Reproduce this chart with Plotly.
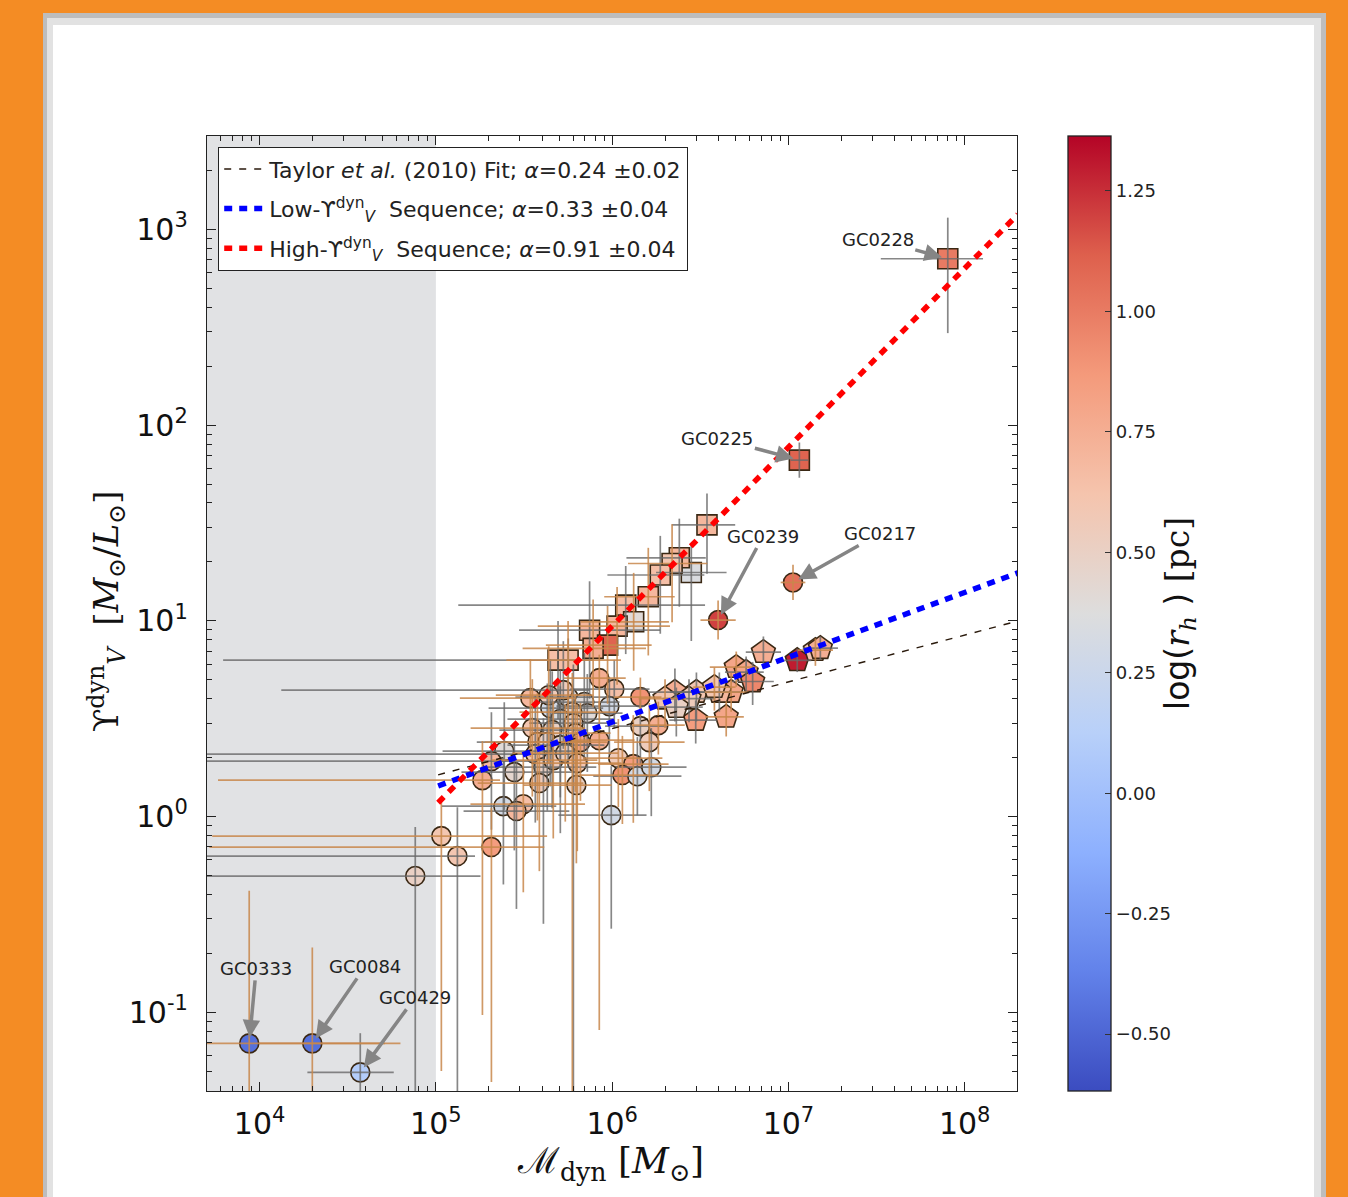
import numpy as np
import plotly.graph_objects as go

# ---------------- data (log10 values) ----------------
# circles
circ_logM = [5.927, 6.012, 6.160, 5.984, 5.536, 5.649, 5.751, 5.842, 5.859, 5.774,
             5.706, 5.780, 5.547, 5.660, 5.791, 5.576, 5.632, 5.706, 5.820, 5.927,
             5.388, 5.315, 5.445, 5.564, 5.610, 5.666, 5.734, 5.802, 5.587, 5.797,
             5.264, 6.035, 6.120, 6.160, 6.262, 6.211, 6.058, 6.143, 6.222, 5.383,
             5.496, 5.457, 5.995, 5.031, 5.122, 5.315, 4.883, 3.941, 4.299, 4.571,
             6.601, 7.026, 5.723, 5.640]
circ_logY = [0.707, 0.651, 0.610, 0.564, 0.605, 0.554, 0.610, 0.585, 0.528, 0.534,
             0.498, 0.477, 0.452, 0.442, 0.426, 0.380, 0.380, 0.365, 0.380, 0.390,
             0.334, 0.283, 0.227, 0.319, 0.252, 0.288, 0.324, 0.273, 0.171, 0.161,
             0.186, 0.298, 0.268, 0.462, 0.467, 0.380, 0.212, 0.206, 0.252, 0.053,
             0.063, 0.028, 0.007, -0.100, -0.202, -0.156, -0.304, -1.159, -1.159, -1.307,
             1.004, 1.196, 0.646, 0.620]
circ_logrh = [0.75, 0.65, 0.90, 0.30, 0.70, 0.30, 0.40, 0.40, 0.40, 0.45,
              0.35, 0.50, 0.60, 0.50, 0.55, 0.60, 0.50, 0.45, 0.80, 0.75,
              0.40, 0.70, 0.45, 0.60, 0.50, 0.55, 0.50, 0.60, 0.55, 0.50,
              0.75, 0.55, 0.85, 0.50, 0.75, 0.55, 0.90, 0.30, 0.30, 0.30,
              0.65, 0.70, 0.30, 0.60, 0.60, 0.85, 0.50, -0.45, -0.45, 0.10,
              1.20, 1.05, 0.55, 0.55]
circ_dM_lo = [0.20, 0.25, 0.15, 0.30, 0.40, 0.35, 0.30, 0.25, 0.20, 0.30,
              0.30, 0.25, 0.35, 0.30, 0.25, 0.30, 0.40, 0.30, 0.25, 0.20,
              0.35, 1.70, 0.30, 1.90, 0.35, 0.35, 0.30, 0.25, 0.35, 0.30,
              1.50, 0.20, 0.20, 0.20, 0.15, 0.20, 0.25, 0.25, 0.20, 0.35,
              0.30, 0.30, 0.30, 1.30, 1.50, 1.60, 1.20, 0.40, 0.30, 0.30,
              0.10, 0.07, 1.60, 0.30]
circ_dM_hi = [0.15, 0.20, 0.12, 0.20, 0.25, 0.30, 0.25, 0.20, 0.20, 0.25,
              0.30, 0.25, 0.30, 0.20, 0.20, 0.30, 0.25, 0.25, 0.15, 0.20,
              0.40, 0.25, 0.35, 0.20, 0.30, 0.25, 0.30, 0.25, 0.25, 0.20,
              0.10, 0.25, 0.20, 0.15, 0.15, 0.20, 0.20, 0.25, 0.20, 0.30,
              0.35, 0.30, 0.20, 0.60, 0.10, 0.30, 0.37, 0.77, 0.50, 0.19,
              0.10, 0.07, 0.15, 0.25]
circ_dY_lo = [0.15, 0.20, 0.10, 0.25, 0.30, 0.40, 0.35, 0.30, 0.30, 2.00,
              0.40, 2.00, 0.35, 0.40, 0.30, 0.40, 0.35, 0.45, 0.30, 1.48,
              0.30, 0.35, 0.40, 0.35, 0.80, 0.40, 0.35, 0.45, 0.45, 0.40,
              1.20, 0.25, 0.30, 0.20, 0.15, 0.25, 0.25, 0.20, 0.25, 0.40,
              0.45, 0.50, 0.58, 1.20, 1.20, 1.20, 1.20, 1.00, 1.00, 0.30,
              0.10, 0.09, 0.30, 0.35]
circ_dY_hi = [0.12, 0.15, 0.10, 0.15, 0.20, 0.25, 0.30, 0.25, 0.20, 0.20,
              0.25, 0.30, 0.25, 0.30, 0.20, 0.25, 0.30, 0.30, 0.20, 0.20,
              0.25, 0.25, 0.25, 0.30, 0.25, 0.30, 0.25, 0.30, 0.25, 0.25,
              0.20, 0.20, 0.25, 0.15, 0.12, 0.20, 0.20, 0.20, 0.20, 0.25,
              0.25, 0.25, 0.25, 0.20, 0.25, 0.20, 0.25, 0.78, 0.49, 0.20,
              0.10, 0.09, 0.25, 0.25]
circ_err = ['t', 'g', 't', 'g', 't', 'g', 'g', 'g', 'g', 't',
            'g', 'g', 't', 'g', 't', 't', 'g', 'g', 't', 't',
            'g', 'g', 'g', 'g', 'g', 't', 't', 't', 't', 't',
            't', 't', 't', 'g', 't', 't', 't', 'g', 'g', 'g',
            't', 'g', 'g', 't', 'g', 't', 'g', 't', 't', 'g',
            't', 't', 'g', 't']

# squares (high-Upsilon sequence)
sq_logM = [7.904, 7.062, 6.538, 6.449, 6.381, 6.340, 6.273, 6.205, 6.077, 6.122,
           6.028, 5.872, 5.974, 5.892, 5.693, 5.750]
sq_logY = [2.850, 1.821, 1.490, 1.247, 1.322, 1.293, 1.234, 1.123, 1.080, 0.995,
           0.973, 0.952, 0.876, 0.859, 0.799, 0.799]
sq_logrh = [1.00, 1.10, 0.70, 0.35, 0.70, 0.60, 0.65, 0.70, 0.65, 0.40,
            0.70, 0.70, 1.10, 0.75, 0.65, 0.65]
sq_dM_lo = [0.38, 0.05, 0.20, 0.20, 0.30, 0.25, 0.30, 0.25, 0.95, 0.30,
            0.45, 0.40, 0.35, 0.40, 1.90, 0.35]
sq_dM_hi = [0.20, 0.05, 0.16, 0.20, 0.15, 0.20, 0.25, 0.15, 0.45, 0.20,
            0.30, 0.40, 0.25, 0.30, 0.20, 0.30]
sq_dY_lo = [0.38, 0.09, 0.25, 0.35, 0.25, 0.30, 0.30, 0.30, 0.25, 0.25,
            0.30, 0.35, 0.30, 0.30, 0.30, 0.35]
sq_dY_hi = [0.21, 0.09, 0.16, 0.15, 0.20, 0.20, 0.20, 0.25, 0.20, 0.25,
            0.20, 0.25, 0.20, 0.25, 0.20, 0.20]
sq_err = ['g', 'g', 'g', 'g', 'g', 't', 'g', 't', 'g', 't', 't', 'g', 't', 't', 'g', 't']

# pentagons (low-Upsilon sequence)
pt_logM = [6.858, 7.050, 7.153, 7.181, 6.704, 6.760, 6.797, 6.675, 6.608, 6.647,
           6.474, 6.478, 6.580, 6.356, 6.436, 6.300, 6.364]
pt_logY = [0.840, 0.798, 0.850, 0.860, 0.763, 0.738, 0.690, 0.636, 0.636, 0.509,
           0.493, 0.636, 0.661, 0.636, 0.602, 0.602, 0.559]
pt_logrh = [0.75, 1.30, 0.60, 0.75, 0.80, 0.80, 0.95, 0.80, 0.70, 0.80,
            0.85, 0.60, 0.60, 0.75, 0.55, 0.60, 0.50]
pt_dM_lo = [0.10, 0.08, 0.10, 0.10, 0.15, 0.12, 0.12, 0.15, 0.12, 0.12,
            0.15, 0.15, 0.12, 0.15, 0.15, 0.15, 0.15]
pt_dM_hi = [0.10, 0.08, 0.10, 0.10, 0.12, 0.10, 0.12, 0.10, 0.12, 0.10,
            0.12, 0.15, 0.12, 0.15, 0.15, 0.12, 0.15]
pt_dY_lo = [0.08, 0.06, 0.08, 0.06, 0.10, 0.10, 0.12, 0.10, 0.10, 0.10,
            0.12, 0.15, 0.12, 0.15, 0.12, 0.15, 0.15]
pt_dY_hi = [0.08, 0.06, 0.06, 0.06, 0.08, 0.08, 0.10, 0.10, 0.10, 0.08,
            0.10, 0.10, 0.10, 0.12, 0.10, 0.10, 0.10]
pt_err = ['g', 'g', 't', 'g', 't', 'g', 'g', 't', 'g', 't', 'g', 'g', 't', 'g', 'g', 't', 'g']

# fits: log Y = norm + alpha * (log M - 5)
fit_names = ["Taylor <i>et al.</i> (2010) Fit; <i>α</i>=0.24 ±0.02",
             "Low-ϒ<sup>dyn</sup><sub><i>V</i></sub>  Sequence; <i>α</i>=0.33 ±0.04",
             "High-ϒ<sup>dyn</sup><sub><i>V</i></sub>  Sequence; <i>α</i>=0.91 ±0.04"]
fit_alpha = [0.239, 0.331, 0.914]
fit_norm = [0.210, 0.152, 0.059]
fit_Mrange = [1.03e5, 2.0e8]

# labelled clusters: (name, group, index)
labels = [("GC0228", "sq", 0), ("GC0225", "sq", 1), ("GC0239", "circ", 50),
          ("GC0217", "circ", 51), ("GC0333", "circ", 47), ("GC0084", "circ", 48),
          ("GC0429", "circ", 49)]

# colour bar
cb_ticks = [-0.5, -0.25, 0.0, 0.25, 0.5, 0.75, 1.0, 1.25]
cb_min, cb_max = -0.618, 1.364

# axes
x_ticks = [1e4, 1e5, 1e6, 1e7, 1e8]
x_ticktext = ["10<sup>4</sup>", "10<sup>5</sup>", "10<sup>6</sup>", "10<sup>7</sup>", "10<sup>8</sup>"]
y_ticks = [1e-1, 1e0, 1e1, 1e2, 1e3]
y_ticktext = ["10<sup>-1</sup>", "10<sup>0</sup>", "10<sup>1</sup>", "10<sup>2</sup>", "10<sup>3</sup>"]
x_range = [5.03e3, 1.98e8]
y_range = [0.0396, 3.0e3]
shade_xmax = 1e5

# ---------------- figure ----------------
coolwarm = [[0.0, 'rgb(59,76,192)'], [0.125, 'rgb(98,130,234)'], [0.25, 'rgb(141,176,254)'],
            [0.375, 'rgb(184,208,249)'], [0.5, 'rgb(221,221,221)'], [0.625, 'rgb(245,196,173)'],
            [0.75, 'rgb(244,154,123)'], [0.875, 'rgb(222,96,77)'], [1.0, 'rgb(180,4,38)']]

L, R, T, B = 207, 331, 136, 106
W, H = 1348, 1197
PW, PH = W - L - R, H - T - B


def px_x(p):
    return (p - L) / PW


def px_y(p):
    return (H - B - p) / PH


def minor_vals(lo_dec, hi_dec):
    return [m * 10.0 ** d for d in range(lo_dec, hi_dec) for m in range(2, 10)]


groups = {
    "circ": dict(M=circ_logM, Y=circ_logY, c=circ_logrh, mlo=circ_dM_lo, mhi=circ_dM_hi,
                 ylo=circ_dY_lo, yhi=circ_dY_hi, e=circ_err, sym="circle", size=19),
    "sq": dict(M=sq_logM, Y=sq_logY, c=sq_logrh, mlo=sq_dM_lo, mhi=sq_dM_hi,
               ylo=sq_dY_lo, yhi=sq_dY_hi, e=sq_err, sym="square", size=20),
    "pt": dict(M=pt_logM, Y=pt_logY, c=pt_logrh, mlo=pt_dM_lo, mhi=pt_dM_hi,
               ylo=pt_dY_lo, yhi=pt_dY_hi, e=pt_err, sym="pentagon", size=25),
}

fig = go.Figure()

edge = "#3a2814"
first = True
for key in ["circ", "sq", "pt"]:
    g = groups[key]
    fig.add_trace(go.Scatter(
        x=10 ** np.array(g["M"]), y=10 ** np.array(g["Y"]), mode="markers",
        showlegend=False, hoverinfo="skip",
        marker=dict(symbol=g["sym"], size=g["size"], color=g["c"], colorscale=coolwarm,
                    cmin=cb_min, cmax=cb_max, line=dict(color=edge, width=1.6),
                    showscale=first,
                    colorbar=dict(
                        x=px_x(1068), xanchor="left", xpad=0,
                        y=0.5, yanchor="middle", ypad=0,
                        len=1.0, lenmode="fraction", thickness=43,
                        outlinecolor="#222", outlinewidth=1.3,
                        tickvals=cb_ticks, ticktext=[f"{v:.2f}".replace("-", "−") for v in cb_ticks],
                        ticks="inside", ticklen=6, tickcolor="#333",
                        tickfont=dict(family="DejaVu Sans", size=18, color="#222"),
                        title=dict(text="log(<span style='font-family:DejaVu Serif'><i>r<sub>h</sub></i></span> ) "
                                        "<span style='font-family:DejaVu Serif'>[pc]</span>",
                                   side="right", font=dict(family="DejaVu Sans", size=33, color="#111")),
                    ))))
    first = False

# error bars drawn on top of the markers
err_colors = {"g": "rgba(105,105,105,0.8)", "t": "rgba(200,135,75,0.85)"}
for cls in ["g", "t"]:
    xs, ys, xp, xm, yp, ym = [], [], [], [], [], []
    for key in ["circ", "sq", "pt"]:
        g = groups[key]
        for i in range(len(g["M"])):
            if g["e"][i] != cls:
                continue
            xv, yv = 10 ** g["M"][i], 10 ** g["Y"][i]
            xs.append(xv); ys.append(yv)
            xp.append(xv * (10 ** g["mhi"][i] - 1)); xm.append(xv * (1 - 10 ** (-g["mlo"][i])))
            yp.append(yv * (10 ** g["yhi"][i] - 1)); ym.append(yv * (1 - 10 ** (-g["ylo"][i])))
    fig.add_trace(go.Scatter(
        x=xs, y=ys, mode="markers", showlegend=False, hoverinfo="skip",
        marker=dict(size=1, opacity=0),
        error_x=dict(type="data", symmetric=False, array=xp, arrayminus=xm,
                     color=err_colors[cls], thickness=1.7, width=0),
        error_y=dict(type="data", symmetric=False, array=yp, arrayminus=ym,
                     color=err_colors[cls], thickness=1.7, width=0)))

# fit lines
fit_styles = [dict(color="#2a1a0c", width=1.4, dash="7px,8px"),
              dict(color="#0000ff", width=5.5, dash="8px,7px"),
              dict(color="#ff0000", width=5.5, dash="8px,7px")]
for k in range(3):
    xm_ = np.array(fit_Mrange)
    ym_ = 10 ** (fit_norm[k] + fit_alpha[k] * (np.log10(xm_) - 5))
    fig.add_trace(go.Scatter(x=xm_, y=ym_, mode="lines", name=fit_names[k],
                             legendgroup=f"g{k}", line=fit_styles[k], hoverinfo="skip"))

# annotations with arrows
label_offsets = {"GC0228": (-70, -19), "GC0225": (-82, -22), "GC0239": (45, -84),
                 "GC0217": (87, -49), "GC0333": (7, -75), "GC0084": (53, -77),
                 "GC0429": (55, -75)}
annotations = []
for name, key, idx in labels:
    g = groups[key]
    ax_, ay_ = label_offsets[name]
    annotations.append(dict(x=g["M"][idx], y=g["Y"][idx], xref="x", yref="y", text=name,
                            showarrow=True, ax=ax_, ay=ay_, arrowhead=2, arrowsize=1.0,
                            arrowwidth=3.5, arrowcolor="#858585", standoff=6,
                            font=dict(family="DejaVu Sans", size=18, color="#222")))

# axis titles
annotations.append(dict(xref="paper", yref="paper", x=px_x(610), y=px_y(1163),
                        xanchor="center", yanchor="middle",
                        text="ℳ<sub>dyn</sub> [<i>M</i><sub>⊙</sub>]", showarrow=False,
                        font=dict(family="DejaVu Serif", size=36, color="#111")))
annotations.append(dict(xref="paper", yref="paper", x=px_x(106), y=px_y(612),
                        xanchor="center", yanchor="middle",
                        text="ϒ<sup>dyn</sup><sub><i>V</i></sub>  [<i>M</i><sub>⊙</sub>/<i>L</i><sub>⊙</sub>]",
                        textangle=-90, showarrow=False,
                        font=dict(family="DejaVu Serif", size=34, color="#111")))

shapes = [
    dict(type="rect", xref="paper", yref="paper", x0=px_x(43), x1=px_x(1326), y0=px_y(1205), y1=px_y(13),
         fillcolor="#bdbdbd", line=dict(width=0), layer="below"),
    dict(type="rect", xref="paper", yref="paper", x0=px_x(47), x1=px_x(1321), y0=px_y(1205), y1=px_y(18),
         fillcolor="#e2e2e2", line=dict(width=0), layer="below"),
    dict(type="rect", xref="paper", yref="paper", x0=px_x(53), x1=px_x(1314), y0=px_y(1205), y1=px_y(25),
         fillcolor="#ffffff", line=dict(width=0), layer="below"),
    dict(type="rect", xref="x", yref="y domain", x0=x_range[0] * 0.5, x1=shade_xmax, y0=0, y1=1,
         fillcolor="#e1e2e4", line=dict(width=0), layer="below"),
]

axis_common = dict(type="log", showgrid=False, zeroline=False, showline=True, linecolor="#222",
                   linewidth=1.3, mirror="allticks", ticks="inside", ticklen=9, tickwidth=1.2,
                   tickcolor="#222", automargin=False,
                   tickfont=dict(family="DejaVu Sans", size=30, color="#111"))

fig.update_layout(
    width=W, height=H,
    margin=dict(l=L, r=R, t=T, b=B, autoexpand=False),
    paper_bgcolor="#f48c24", plot_bgcolor="#ffffff",
    xaxis=dict(axis_common, range=[np.log10(x_range[0]), np.log10(x_range[1])],
               tickmode="array", tickvals=x_ticks, ticktext=x_ticktext, ticklabelstandoff=6,
               minor=dict(tickmode="array", tickvals=minor_vals(3, 9), ticks="inside", ticklen=5,
                          tickwidth=1, tickcolor="#222", showgrid=False)),
    yaxis=dict(axis_common, range=[np.log10(y_range[0]), np.log10(y_range[1])],
               tickmode="array", tickvals=y_ticks, ticktext=y_ticktext, ticklabelstandoff=12,
               minor=dict(tickmode="array", tickvals=minor_vals(-2, 4), ticks="inside", ticklen=5,
                          tickwidth=1, tickcolor="#222", showgrid=False)),
    legend=dict(x=px_x(218), y=px_y(147), xanchor="left", yanchor="top",
                bgcolor="#ffffff", bordercolor="#222", borderwidth=1.2,
                font=dict(family="DejaVu Sans", size=22, color="#222"),
                traceorder="grouped", tracegroupgap=8, itemwidth=40),
    shapes=shapes, annotations=annotations,
)

fig.write_html("out.html", config={"displayModeBar": False},
               post_script="document.body.style.margin='0px';document.body.style.background='#f48c24';")
